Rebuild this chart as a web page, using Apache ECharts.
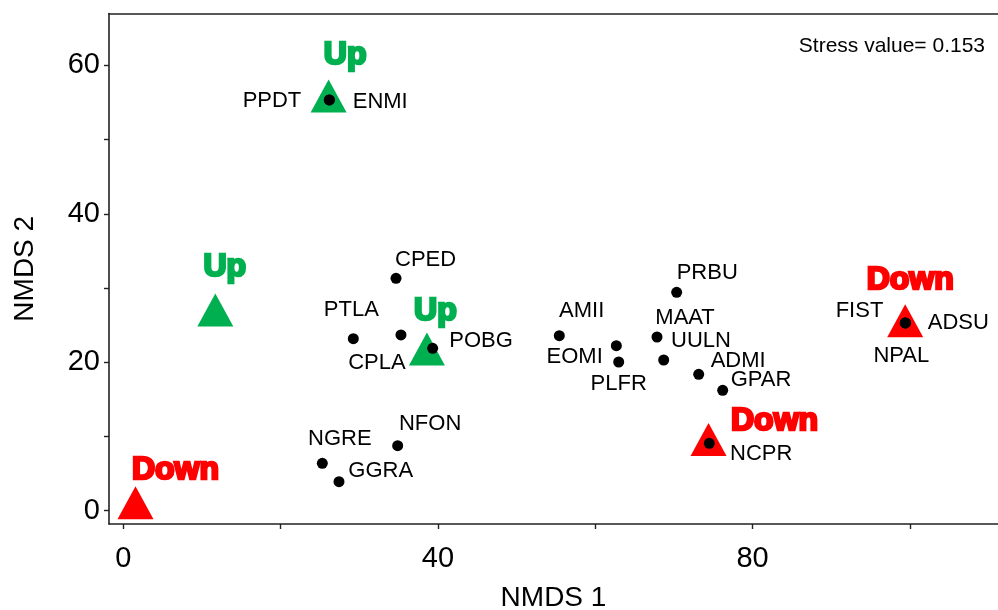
<!DOCTYPE html>
<html>
<head>
<meta charset="utf-8">
<script src="https://cdn.jsdelivr.net/npm/echarts@6/dist/echarts.min.js"></script>
<style>
  html, body { margin: 0; padding: 0; background: #fff; }
  #chart { width: 998px; height: 610px; }
</style>
</head>
<body>
<div id="chart"></div>
<script>
// NMDS ordination: site scores
const siteNames = ['PPDT', 'ENMI', 'CPED', 'PTLA', 'CPLA', 'POBG', 'NFON', 'NGRE', 'GGRA',
  'AMII', 'EOMI', 'PLFR', 'MAAT', 'UULN', 'ADMI', 'GPAR', 'PRBU', 'NCPR', 'FIST', 'ADSU', 'NPAL'];
const siteX = [26.19, 26.19, 34.67, 29.24, 35.30, 39.33, 34.88, 25.30, 27.42,
  55.43, 62.68, 62.98, 67.85, 68.70, 73.15, 76.20, 70.35, 74.50, 99.42, 99.42, 99.42];
const siteY = [55.35, 55.35, 31.32, 23.18, 23.68, 21.89, 8.76, 6.39, 3.91,
  23.58, 22.24, 20.04, 23.41, 20.31, 18.38, 16.23, 29.43, 9.08, 25.30, 25.30, 25.30];

// Trend groups shown as triangles
const groupTrend = ['Up', 'Up', 'Up', 'Down', 'Down', 'Down'];
const groupX = [26.10, 11.70, 38.60, 1.55, 74.40, 99.40];
const groupY = [55.89, 27.05, 21.79, 1.08, 9.60, 25.59];

// Axis ticks and labels
const xTicks = [0, 20, 40, 60, 80, 100];
const xTickLabels = [0, 40, 80];
const yTicks = [0, 10, 20, 30, 40, 50, 60];
const yTickLabels = [0, 20, 40, 60];

const stressText = 'Stress value= 0.153';

// Label placement around each site point: [align, dx, dy]
const siteLabelPlacement = {
  PPDT: ['right', -28, 1], ENMI: ['left', 23.4, 1.8], CPED: ['left', -1, -18],
  PTLA: ['center', -2, -29], CPLA: ['center', -24, 28], POBG: ['left', 16.6, -7],
  NFON: ['left', 1.3, -22], NGRE: ['center', 17.5, -24.5], GGRA: ['left', 9.3, -11],
  AMII: ['center', 22.4, -25], EOMI: ['right', -13.6, 11], PLFR: ['center', 0, 22],
  MAAT: ['left', -1.7, -19.3], UULN: ['left', 7.3, -19.3], ADMI: ['left', 12, -13.6],
  GPAR: ['left', 8, -10], PRBU: ['left', 0, -19], NCPR: ['left', 20.7, 11],
  FIST: ['right', -22, -12.5], ADSU: ['left', 22.4, 0], NPAL: ['center', -4, 32.5]
};
// Offsets of the trend words from their triangles
const groupLabelOffset = [[16.5, -40.5], [9.5, -43], [8.5, -37.5], [40, -32.7], [66, -18], [5, -40.5]];

const trendColor = { Up: '#00B050', Down: '#FF0000' };
const FONT = "'Liberation Sans', Arial, sans-serif";
const axisColor = '#222';

const xMin = -1.818, xMax = 111.2;
const yMin = -1.79, yMax = 67.0;

const siteData = siteNames.map((name, i) => {
  const p = siteLabelPlacement[name];
  return {
    name: name,
    value: [siteX[i], siteY[i]],
    label: { align: p[0], offset: [p[1], p[2]] }
  };
});

const groupData = groupTrend.map((t, i) => ({
  name: t,
  value: [groupX[i], groupY[i]],
  itemStyle: { color: trendColor[t], opacity: 1 },
  label: {
    color: trendColor[t],
    textBorderColor: trendColor[t],
    offset: groupLabelOffset[i]
  }
}));

const chart = echarts.init(document.getElementById('chart'), null, { renderer: 'canvas' });

chart.setOption({
  animation: false,
  backgroundColor: '#fff',
  grid: { left: 109, right: 0, top: 13.5, bottom: 86, containLabel: false, outerBoundsMode: 'none' },
  xAxis: [{
    type: 'value',
    min: xMin, max: xMax,
    name: 'NMDS 1',
    nameLocation: 'middle',
    nameGap: 60,
    nameTextStyle: { fontFamily: FONT, fontSize: 28, color: '#000' },
    axisLine: { show: true, onZero: false, lineStyle: { color: axisColor, width: 1.6 } },
    axisTick: { show: true, inside: false, length: 5, customValues: xTicks, lineStyle: { color: axisColor, width: 1.4 } },
    axisLabel: { show: true, customValues: xTickLabels, margin: 20, fontFamily: FONT, fontSize: 29, color: '#000' },
    splitLine: { show: false }
  }, {
    type: 'value',
    position: 'top',
    min: xMin, max: xMax,
    axisLine: { show: true, onZero: false, lineStyle: { color: axisColor, width: 1.6 } },
    axisTick: { show: false },
    axisLabel: { show: false },
    splitLine: { show: false }
  }],
  yAxis: {
    type: 'value',
    min: yMin, max: yMax,
    name: 'NMDS 2',
    nameLocation: 'middle',
    nameGap: 70,
    nameTextStyle: { fontFamily: FONT, fontSize: 28, color: '#000' },
    axisLine: { show: true, onZero: false, lineStyle: { color: axisColor, width: 1.6 } },
    axisTick: { show: true, inside: false, length: 5, customValues: yTicks, lineStyle: { color: axisColor, width: 1.4 } },
    axisLabel: { show: true, customValues: yTickLabels, margin: 9, fontFamily: FONT, fontSize: 29, color: '#000' },
    splitLine: { show: false }
  },
  graphic: [{
    type: 'text',
    right: 13,
    top: 36,
    style: { text: stressText, font: '21px ' + FONT, fill: '#000' }
  }],
  series: [{
    type: 'scatter',
    name: 'trend',
    xAxisIndex: 0,
    symbol: 'triangle',
    symbolSize: [36, 33],
    z: 2,
    data: groupData,
    label: {
      show: true,
      position: 'inside',
      formatter: '{b}',
      fontFamily: FONT,
      fontSize: 32,
      fontWeight: 'bold',
      textBorderWidth: 2.6,
      verticalAlign: 'middle',
      align: 'center'
    },
    emphasis: { disabled: true }
  }, {
    type: 'scatter',
    name: 'sites',
    xAxisIndex: 0,
    symbol: 'circle',
    symbolSize: 11,
    z: 3,
    itemStyle: { color: '#000', opacity: 1 },
    data: siteData,
    label: {
      show: true,
      position: 'inside',
      formatter: '{b}',
      fontFamily: FONT,
      fontSize: 22,
      color: '#000',
      verticalAlign: 'middle'
    },
    emphasis: { disabled: true }
  }]
});
</script>
</body>
</html>
